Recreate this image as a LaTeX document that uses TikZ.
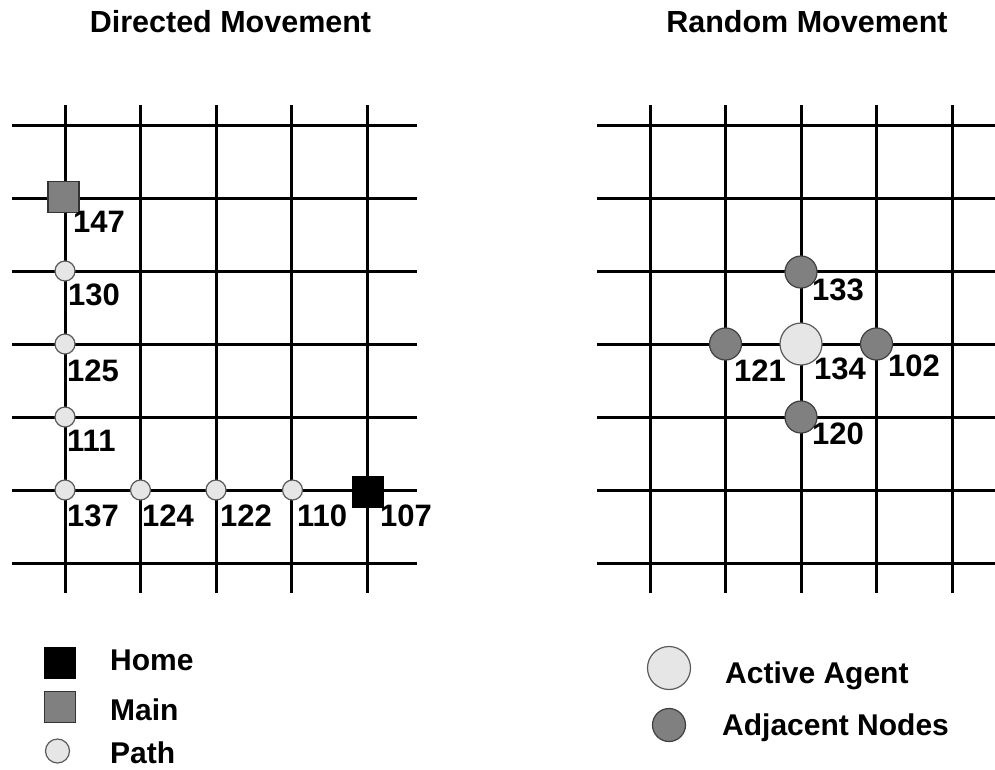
\documentclass[tikz,border=0pt]{standalone}
\usepackage{fontspec}
\setmainfont{Liberation Sans}
\definecolor{lightg}{HTML}{E6E6E6}
\definecolor{midg}{HTML}{808080}
\definecolor{edgeg}{HTML}{5A5A5A}
\begin{document}
\begin{tikzpicture}[x=1pt,y=-1pt,
  gridline/.style={line width=3pt, black},
  lab/.style={font=\fontsize{31}{36}\selectfont\bfseries, inner sep=0pt, anchor=base west},
  leg/.style={font=\fontsize{30}{36}\selectfont\bfseries, inner sep=0pt, anchor=base west},
  ttl/.style={font=\fontsize{30.5}{36}\selectfont\bfseries, inner sep=0pt, anchor=base},
  homebox/.style={draw=black, fill=black, minimum size=31pt, inner sep=0pt},
  mainbox/.style={draw=black!80, fill=midg, line width=1.2pt, minimum size=31pt, inner sep=0pt},
  pathdot/.style={circle, draw=edgeg, fill=lightg, line width=1.2pt, minimum size=20pt, inner sep=0pt},
  agent/.style={circle, draw=edgeg, fill=lightg, line width=1.2pt, minimum size=42pt, inner sep=0pt},
  adj/.style={circle, draw=black!75, fill=midg, line width=1.2pt, minimum size=32pt, inner sep=0pt}]
\useasboundingbox (0,0) rectangle (995,769);
% titles
\node[ttl] (t1) at (230.5,32) {Directed Movement};
\node[ttl] (t2) at (807,32) {Random Movement};
% grids
\foreach \y in {125,198,271,344,417,490,563} {
  \draw[gridline] (12,\y) -- (417,\y);
  \draw[gridline] (597,\y) -- (995,\y);
}
\foreach \x in {65,140.5,216,291.5,367} \draw[gridline] (\x,105) -- (\x,593);
\foreach \x in {650,725.5,801,876.5,952} \draw[gridline] (\x,105) -- (\x,593);
% directed movement nodes
\node[mainbox] (main) at (63.5,197) {};
\node[pathdot] (p130) at (65,271) {};
\node[pathdot] (p125) at (65,344) {};
\node[pathdot] (p111) at (65,417) {};
\node[pathdot] (p137) at (65,490) {};
\node[pathdot] (p124) at (140.5,490) {};
\node[pathdot] (p122) at (216,490) {};
\node[pathdot] (p110) at (292.5,490) {};
\node[homebox] (home) at (368,492) {};
\node[lab] (l147) at (73,232) {147};
\node[lab] (l130) at (68,305) {130};
\node[lab] (l125) at (67,381) {125};
\node[lab] (l111) at (67,451) {111};
\node[lab] (l137) at (67,526) {137};
\node[lab] (l124) at (142,526) {124};
\node[lab] (l122) at (220,526) {122};
\node[lab] (l110) at (297,526) {110};
\node[lab] (l107) at (380,526) {107};
% random movement nodes
\node[agent] (a134) at (801,344) {};
\node[adj] (a133) at (801,272) {};
\node[adj] (a121) at (725.5,344) {};
\node[adj] (a102) at (876.5,344) {};
\node[adj] (a120) at (801,417) {};
\node[lab] (l133) at (812,300) {133};
\node[lab] (l121) at (734,381) {121};
\node[lab] (l134) at (814,379) {134};
\node[lab] (l102) at (888,376) {102};
\node[lab] (l120) at (812,444) {120};
% legends
\node[homebox] (lghome) at (60,663) {};
\node[mainbox] (lgmain) at (60,707) {};
\node[pathdot, minimum size=24pt] (lgpath) at (57.5,751) {};
\node[leg] (lthome) at (110,670) {Home};
\node[leg] (ltmain) at (110,720) {Main};
\node[leg] (ltpath) at (110,763) {Path};
\node[agent, minimum size=43pt] (lgagent) at (669,668) {};
\node[adj, minimum size=33pt] (lgadj) at (669,725) {};
\node[leg] (ltagent) at (725,683) {Active Agent};
\node[leg] (ltadj) at (722,735) {Adjacent Nodes};
\end{tikzpicture}
\end{document}
